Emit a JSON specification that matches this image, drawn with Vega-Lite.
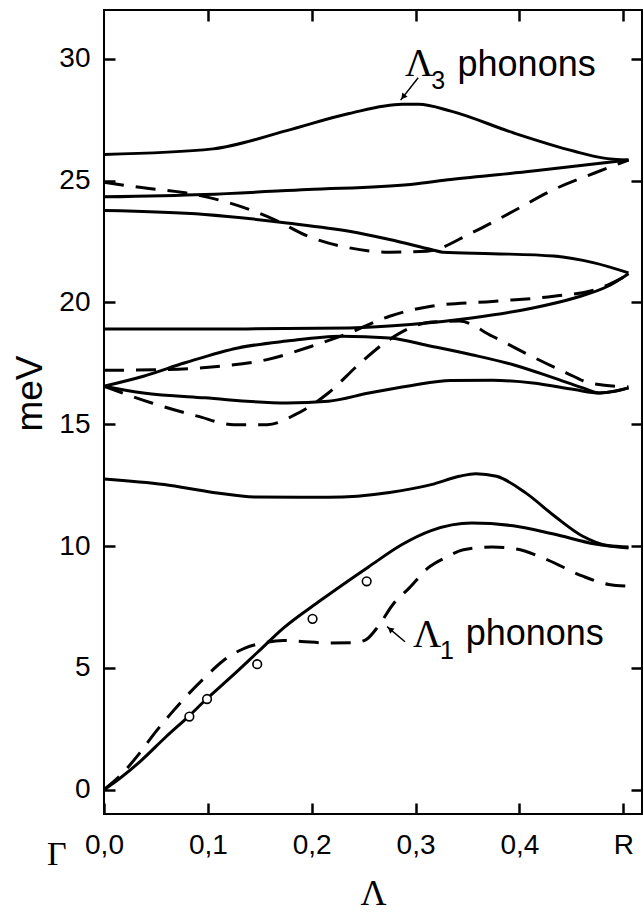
{
  "$schema": "https://vega.github.io/schema/vega-lite/v6.json",
  "width": 538,
  "height": 804,
  "autosize": {"type": "none"},
  "padding": {"left": 104, "top": 10, "right": 1, "bottom": 99},
  "background": "white",
  "config": {
    "view": {"stroke": "black", "strokeWidth": 2},
    "axis": {
      "labelFont": "Liberation Sans",
      "labelFontSize": 28,
      "labelColor": "black",
      "tickColor": "black",
      "tickWidth": 2.5,
      "domain": false,
      "grid": false,
      "titleColor": "black",
      "titleFontWeight": "normal"
    }
  },
  "datasets": {
    "solid": [
      {"branch": "s1", "x": 0.0, "y": 26.07}, {"branch": "s1", "x": 0.105, "y": 26.3}, {"branch": "s1", "x": 0.176, "y": 27.05},
      {"branch": "s1", "x": 0.236, "y": 27.75}, {"branch": "s1", "x": 0.287, "y": 28.13}, {"branch": "s1", "x": 0.303, "y": 28.13},
      {"branch": "s1", "x": 0.334, "y": 27.85}, {"branch": "s1", "x": 0.394, "y": 26.96}, {"branch": "s1", "x": 0.453, "y": 26.2},
      {"branch": "s1", "x": 0.48, "y": 25.93}, {"branch": "s1", "x": 0.505, "y": 25.84},

      {"branch": "s2", "x": 0.0, "y": 24.33}, {"branch": "s2", "x": 0.097, "y": 24.43}, {"branch": "s2", "x": 0.196, "y": 24.63},
      {"branch": "s2", "x": 0.295, "y": 24.84}, {"branch": "s2", "x": 0.334, "y": 25.04}, {"branch": "s2", "x": 0.413, "y": 25.39},
      {"branch": "s2", "x": 0.505, "y": 25.84},

      {"branch": "s3", "x": 0.0, "y": 23.77}, {"branch": "s3", "x": 0.097, "y": 23.61}, {"branch": "s3", "x": 0.176, "y": 23.26},
      {"branch": "s3", "x": 0.236, "y": 22.92}, {"branch": "s3", "x": 0.275, "y": 22.58}, {"branch": "s3", "x": 0.315, "y": 22.17},
      {"branch": "s3", "x": 0.326, "y": 22.06}, {"branch": "s3", "x": 0.374, "y": 22.0}, {"branch": "s3", "x": 0.433, "y": 21.9},
      {"branch": "s3", "x": 0.472, "y": 21.62}, {"branch": "s3", "x": 0.505, "y": 21.21},

      {"branch": "s4", "x": 0.0, "y": 18.91}, {"branch": "s4", "x": 0.137, "y": 18.91}, {"branch": "s4", "x": 0.236, "y": 18.95},
      {"branch": "s4", "x": 0.295, "y": 19.09}, {"branch": "s4", "x": 0.354, "y": 19.36}, {"branch": "s4", "x": 0.413, "y": 19.77},
      {"branch": "s4", "x": 0.453, "y": 20.18}, {"branch": "s4", "x": 0.485, "y": 20.66}, {"branch": "s4", "x": 0.505, "y": 21.18},

      {"branch": "s5", "x": 0.0, "y": 16.56}, {"branch": "s5", "x": 0.038, "y": 16.97}, {"branch": "s5", "x": 0.078, "y": 17.52},
      {"branch": "s5", "x": 0.129, "y": 18.13}, {"branch": "s5", "x": 0.176, "y": 18.41}, {"branch": "s5", "x": 0.228, "y": 18.61},
      {"branch": "s5", "x": 0.275, "y": 18.54}, {"branch": "s5", "x": 0.315, "y": 18.2}, {"branch": "s5", "x": 0.354, "y": 17.85},
      {"branch": "s5", "x": 0.394, "y": 17.44}, {"branch": "s5", "x": 0.433, "y": 16.9}, {"branch": "s5", "x": 0.461, "y": 16.49},
      {"branch": "s5", "x": 0.477, "y": 16.28}, {"branch": "s5", "x": 0.492, "y": 16.35}, {"branch": "s5", "x": 0.505, "y": 16.49},

      {"branch": "s6", "x": 0.0, "y": 16.56}, {"branch": "s6", "x": 0.038, "y": 16.28}, {"branch": "s6", "x": 0.097, "y": 16.08},
      {"branch": "s6", "x": 0.176, "y": 15.87}, {"branch": "s6", "x": 0.216, "y": 15.94}, {"branch": "s6", "x": 0.255, "y": 16.28},
      {"branch": "s6", "x": 0.295, "y": 16.58}, {"branch": "s6", "x": 0.334, "y": 16.79}, {"branch": "s6", "x": 0.374, "y": 16.8},
      {"branch": "s6", "x": 0.413, "y": 16.69}, {"branch": "s6", "x": 0.453, "y": 16.42}, {"branch": "s6", "x": 0.477, "y": 16.28},
      {"branch": "s6", "x": 0.505, "y": 16.49},

      {"branch": "s7", "x": 0.0, "y": 12.75}, {"branch": "s7", "x": 0.058, "y": 12.52}, {"branch": "s7", "x": 0.105, "y": 12.2},
      {"branch": "s7", "x": 0.145, "y": 12.01}, {"branch": "s7", "x": 0.216, "y": 12.0}, {"branch": "s7", "x": 0.275, "y": 12.2},
      {"branch": "s7", "x": 0.315, "y": 12.52}, {"branch": "s7", "x": 0.342, "y": 12.86}, {"branch": "s7", "x": 0.358, "y": 12.97},
      {"branch": "s7", "x": 0.378, "y": 12.86}, {"branch": "s7", "x": 0.406, "y": 12.18}, {"branch": "s7", "x": 0.434, "y": 11.22},
      {"branch": "s7", "x": 0.461, "y": 10.4}, {"branch": "s7", "x": 0.485, "y": 10.02}, {"branch": "s7", "x": 0.505, "y": 9.96},

      {"branch": "s8", "x": 0.0, "y": 0.0}, {"branch": "s8", "x": 0.0154, "y": 0.47}, {"branch": "s8", "x": 0.0347, "y": 1.15},
      {"branch": "s8", "x": 0.06, "y": 2.18}, {"branch": "s8", "x": 0.082, "y": 3.03}, {"branch": "s8", "x": 0.098, "y": 3.69},
      {"branch": "s8", "x": 0.1245, "y": 4.71}, {"branch": "s8", "x": 0.1486, "y": 5.67}, {"branch": "s8", "x": 0.1727, "y": 6.63},
      {"branch": "s8", "x": 0.208, "y": 7.75}, {"branch": "s8", "x": 0.255, "y": 9.15}, {"branch": "s8", "x": 0.287, "y": 10.06},
      {"branch": "s8", "x": 0.315, "y": 10.63}, {"branch": "s8", "x": 0.354, "y": 10.94}, {"branch": "s8", "x": 0.394, "y": 10.83},
      {"branch": "s8", "x": 0.433, "y": 10.49}, {"branch": "s8", "x": 0.473, "y": 10.08}, {"branch": "s8", "x": 0.505, "y": 9.92}
    ],
    "dashed": [
      {"branch": "d1", "x": 0.0, "y": 24.93}, {"branch": "d1", "x": 0.038, "y": 24.7}, {"branch": "d1", "x": 0.078, "y": 24.5},
      {"branch": "d1", "x": 0.121, "y": 24.08}, {"branch": "d1", "x": 0.164, "y": 23.4}, {"branch": "d1", "x": 0.196, "y": 22.72},
      {"branch": "d1", "x": 0.236, "y": 22.24}, {"branch": "d1", "x": 0.275, "y": 22.06}, {"branch": "d1", "x": 0.311, "y": 22.1},
      {"branch": "d1", "x": 0.354, "y": 22.85}, {"branch": "d1", "x": 0.394, "y": 23.74}, {"branch": "d1", "x": 0.433, "y": 24.63},
      {"branch": "d1", "x": 0.473, "y": 25.32}, {"branch": "d1", "x": 0.505, "y": 25.84},

      {"branch": "d2", "x": 0.0, "y": 17.21}, {"branch": "d2", "x": 0.058, "y": 17.24}, {"branch": "d2", "x": 0.109, "y": 17.37},
      {"branch": "d2", "x": 0.157, "y": 17.65}, {"branch": "d2", "x": 0.2, "y": 18.2}, {"branch": "d2", "x": 0.236, "y": 18.74},
      {"branch": "d2", "x": 0.275, "y": 19.43}, {"branch": "d2", "x": 0.315, "y": 19.84}, {"branch": "d2", "x": 0.374, "y": 20.04},
      {"branch": "d2", "x": 0.433, "y": 20.25}, {"branch": "d2", "x": 0.473, "y": 20.52}, {"branch": "d2", "x": 0.505, "y": 21.14},

      {"branch": "d3", "x": 0.0, "y": 16.56}, {"branch": "d3", "x": 0.046, "y": 15.87}, {"branch": "d3", "x": 0.09, "y": 15.33},
      {"branch": "d3", "x": 0.125, "y": 14.98}, {"branch": "d3", "x": 0.157, "y": 14.98}, {"branch": "d3", "x": 0.184, "y": 15.39},
      {"branch": "d3", "x": 0.216, "y": 16.28}, {"branch": "d3", "x": 0.247, "y": 17.52}, {"branch": "d3", "x": 0.275, "y": 18.48},
      {"branch": "d3", "x": 0.315, "y": 19.19}, {"branch": "d3", "x": 0.342, "y": 19.23}, {"branch": "d3", "x": 0.374, "y": 18.61},
      {"branch": "d3", "x": 0.405, "y": 17.93}, {"branch": "d3", "x": 0.445, "y": 17.11}, {"branch": "d3", "x": 0.468, "y": 16.69},
      {"branch": "d3", "x": 0.505, "y": 16.53},

      {"branch": "d4", "x": 0.0, "y": 0.0}, {"branch": "d4", "x": 0.015, "y": 0.55}, {"branch": "d4", "x": 0.0347, "y": 1.52},
      {"branch": "d4", "x": 0.0475, "y": 2.25}, {"branch": "d4", "x": 0.0642, "y": 3.11}, {"branch": "d4", "x": 0.079, "y": 3.82},
      {"branch": "d4", "x": 0.098, "y": 4.64}, {"branch": "d4", "x": 0.115, "y": 5.3}, {"branch": "d4", "x": 0.1357, "y": 5.81},
      {"branch": "d4", "x": 0.153, "y": 6.02}, {"branch": "d4", "x": 0.1727, "y": 6.12}, {"branch": "d4", "x": 0.19, "y": 6.08},
      {"branch": "d4", "x": 0.216, "y": 6.02}, {"branch": "d4", "x": 0.24, "y": 6.03}, {"branch": "d4", "x": 0.252, "y": 6.15},
      {"branch": "d4", "x": 0.264, "y": 6.7}, {"branch": "d4", "x": 0.278, "y": 7.59}, {"branch": "d4", "x": 0.294, "y": 8.28},
      {"branch": "d4", "x": 0.312, "y": 9.1}, {"branch": "d4", "x": 0.33, "y": 9.55}, {"branch": "d4", "x": 0.346, "y": 9.85},
      {"branch": "d4", "x": 0.374, "y": 9.96}, {"branch": "d4", "x": 0.397, "y": 9.88}, {"branch": "d4", "x": 0.425, "y": 9.47},
      {"branch": "d4", "x": 0.461, "y": 8.76}, {"branch": "d4", "x": 0.486, "y": 8.42}, {"branch": "d4", "x": 0.504, "y": 8.35}
    ],
    "measured": [
      {"x": 0.0822, "y": 3.0}, {"x": 0.0992, "y": 3.72}, {"x": 0.1475, "y": 5.15},
      {"x": 0.2008, "y": 7.01}, {"x": 0.2529, "y": 8.55}
    ],
    "arrows": [
      {"label": "L3", "x": 0.3025, "y": 29.22, "x2": 0.2856, "y2": 28.3},
      {"label": "L1", "x": 0.2898, "y": 6.07, "x2": 0.2725, "y2": 6.69}
    ],
    "heads": [
      {"label": "L3", "x": 0.288, "y": 28.43},
      {"label": "L1", "x": 0.2755, "y": 6.58}
    ],
    "greek": [
      {"text": "Λ", "x": 0.2898, "y": 29.31},
      {"text": "Λ", "x": 0.2975, "y": 5.86},
      {"text": "Γ", "x": -0.0549, "y": -3.09}
    ],
    "subs": [
      {"text": "3", "x": 0.315, "y": 28.74},
      {"text": "1", "x": 0.3235, "y": 5.37}
    ],
    "words": [
      {"text": "phonons", "x": 0.3404, "y": 29.31},
      {"text": "phonons", "x": 0.3482, "y": 5.95}
    ]
  },
  "resolve": {"axis": {"x": "independent", "y": "independent"}},
  "layer": [
    {
      "data": {"name": "solid"},
      "mark": {"type": "line", "interpolate": "monotone", "color": "black", "strokeWidth": 3},
      "encoding": {
        "x": {
          "field": "x", "type": "quantitative",
          "scale": {"domain": [0, 0.518], "nice": false, "zero": false},
          "axis": {
            "orient": "bottom",
            "values": [0, 0.1, 0.2, 0.3, 0.4, 0.5],
            "labelExpr": "datum.value >= 0.45 ? 'R' : replace(format(datum.value, '.1f'), '.', ',')",
            "tickSize": -11,
            "labelPadding": 28,
            "labelFlush": false,
            "title": "Λ",
            "titleFont": "Liberation Serif",
            "titleFontSize": 36,
            "titlePadding": 17
          }
        },
        "y": {
          "field": "y", "type": "quantitative",
          "scale": {"domain": [-1, 32], "nice": false, "zero": false},
          "axis": {
            "orient": "left",
            "values": [0, 5, 10, 15, 20, 25, 30],
            "tickSize": -11,
            "labelPadding": 25,
            "labelFlush": false,
            "title": "meV",
            "titleFont": "Liberation Sans",
            "titleFontSize": 37,
            "titlePadding": 9,
            "titleY": 383
          }
        },
        "detail": {"field": "branch"}
      }
    },
    {
      "data": {"name": "dashed"},
      "mark": {"type": "line", "interpolate": "monotone", "color": "black", "strokeWidth": 3, "strokeDash": [20, 12]},
      "encoding": {
        "x": {
          "field": "x", "type": "quantitative",
          "axis": {"orient": "top", "tickSize": -11, "values": [0.1, 0.2, 0.3, 0.4, 0.5], "labels": false, "title": null}
        },
        "y": {
          "field": "y", "type": "quantitative",
          "axis": {"orient": "right", "tickSize": -11, "values": [0, 5, 10, 15, 20, 25, 30], "labels": false, "title": null}
        },
        "detail": {"field": "branch"}
      }
    },
    {
      "data": {"name": "measured"},
      "mark": {"type": "point", "shape": "circle", "filled": false, "color": "black", "fill": "white", "fillOpacity": 1, "strokeWidth": 1.6, "size": 75, "opacity": 1},
      "encoding": {
        "x": {"field": "x", "type": "quantitative", "axis": null},
        "y": {"field": "y", "type": "quantitative", "axis": null}
      }
    },
    {
      "data": {"name": "arrows"},
      "mark": {"type": "rule", "color": "black", "strokeWidth": 1.5},
      "encoding": {
        "x": {"field": "x", "type": "quantitative", "axis": null},
        "y": {"field": "y", "type": "quantitative", "axis": null},
        "x2": {"field": "x2"},
        "y2": {"field": "y2"}
      }
    },
    {
      "data": {"name": "heads"},
      "mark": {"type": "point", "shape": "triangle-up", "filled": true, "color": "black", "size": 45, "opacity": 1},
      "encoding": {
        "x": {"field": "x", "type": "quantitative", "axis": null},
        "y": {"field": "y", "type": "quantitative", "axis": null},
        "angle": {"condition": {"test": "datum.label == 'L3'", "value": 218}, "value": 310}
      }
    },
    {
      "data": {"name": "greek"},
      "mark": {"type": "text", "font": "Liberation Serif", "align": "left", "baseline": "alphabetic", "color": "black"},
      "encoding": {
        "x": {"field": "x", "type": "quantitative", "axis": null},
        "y": {"field": "y", "type": "quantitative", "axis": null},
        "text": {"field": "text"},
        "size": {"condition": {"test": "datum.text == 'Γ'", "value": 34}, "value": 39}
      }
    },
    {
      "data": {"name": "subs"},
      "mark": {"type": "text", "font": "Liberation Sans", "fontSize": 25, "align": "left", "baseline": "alphabetic", "color": "black"},
      "encoding": {
        "x": {"field": "x", "type": "quantitative", "axis": null},
        "y": {"field": "y", "type": "quantitative", "axis": null},
        "text": {"field": "text"}
      }
    },
    {
      "data": {"name": "words"},
      "mark": {"type": "text", "font": "Liberation Sans", "fontSize": 36, "align": "left", "baseline": "alphabetic", "color": "black"},
      "encoding": {
        "x": {"field": "x", "type": "quantitative", "axis": null},
        "y": {"field": "y", "type": "quantitative", "axis": null},
        "text": {"field": "text"}
      }
    }
  ]
}
